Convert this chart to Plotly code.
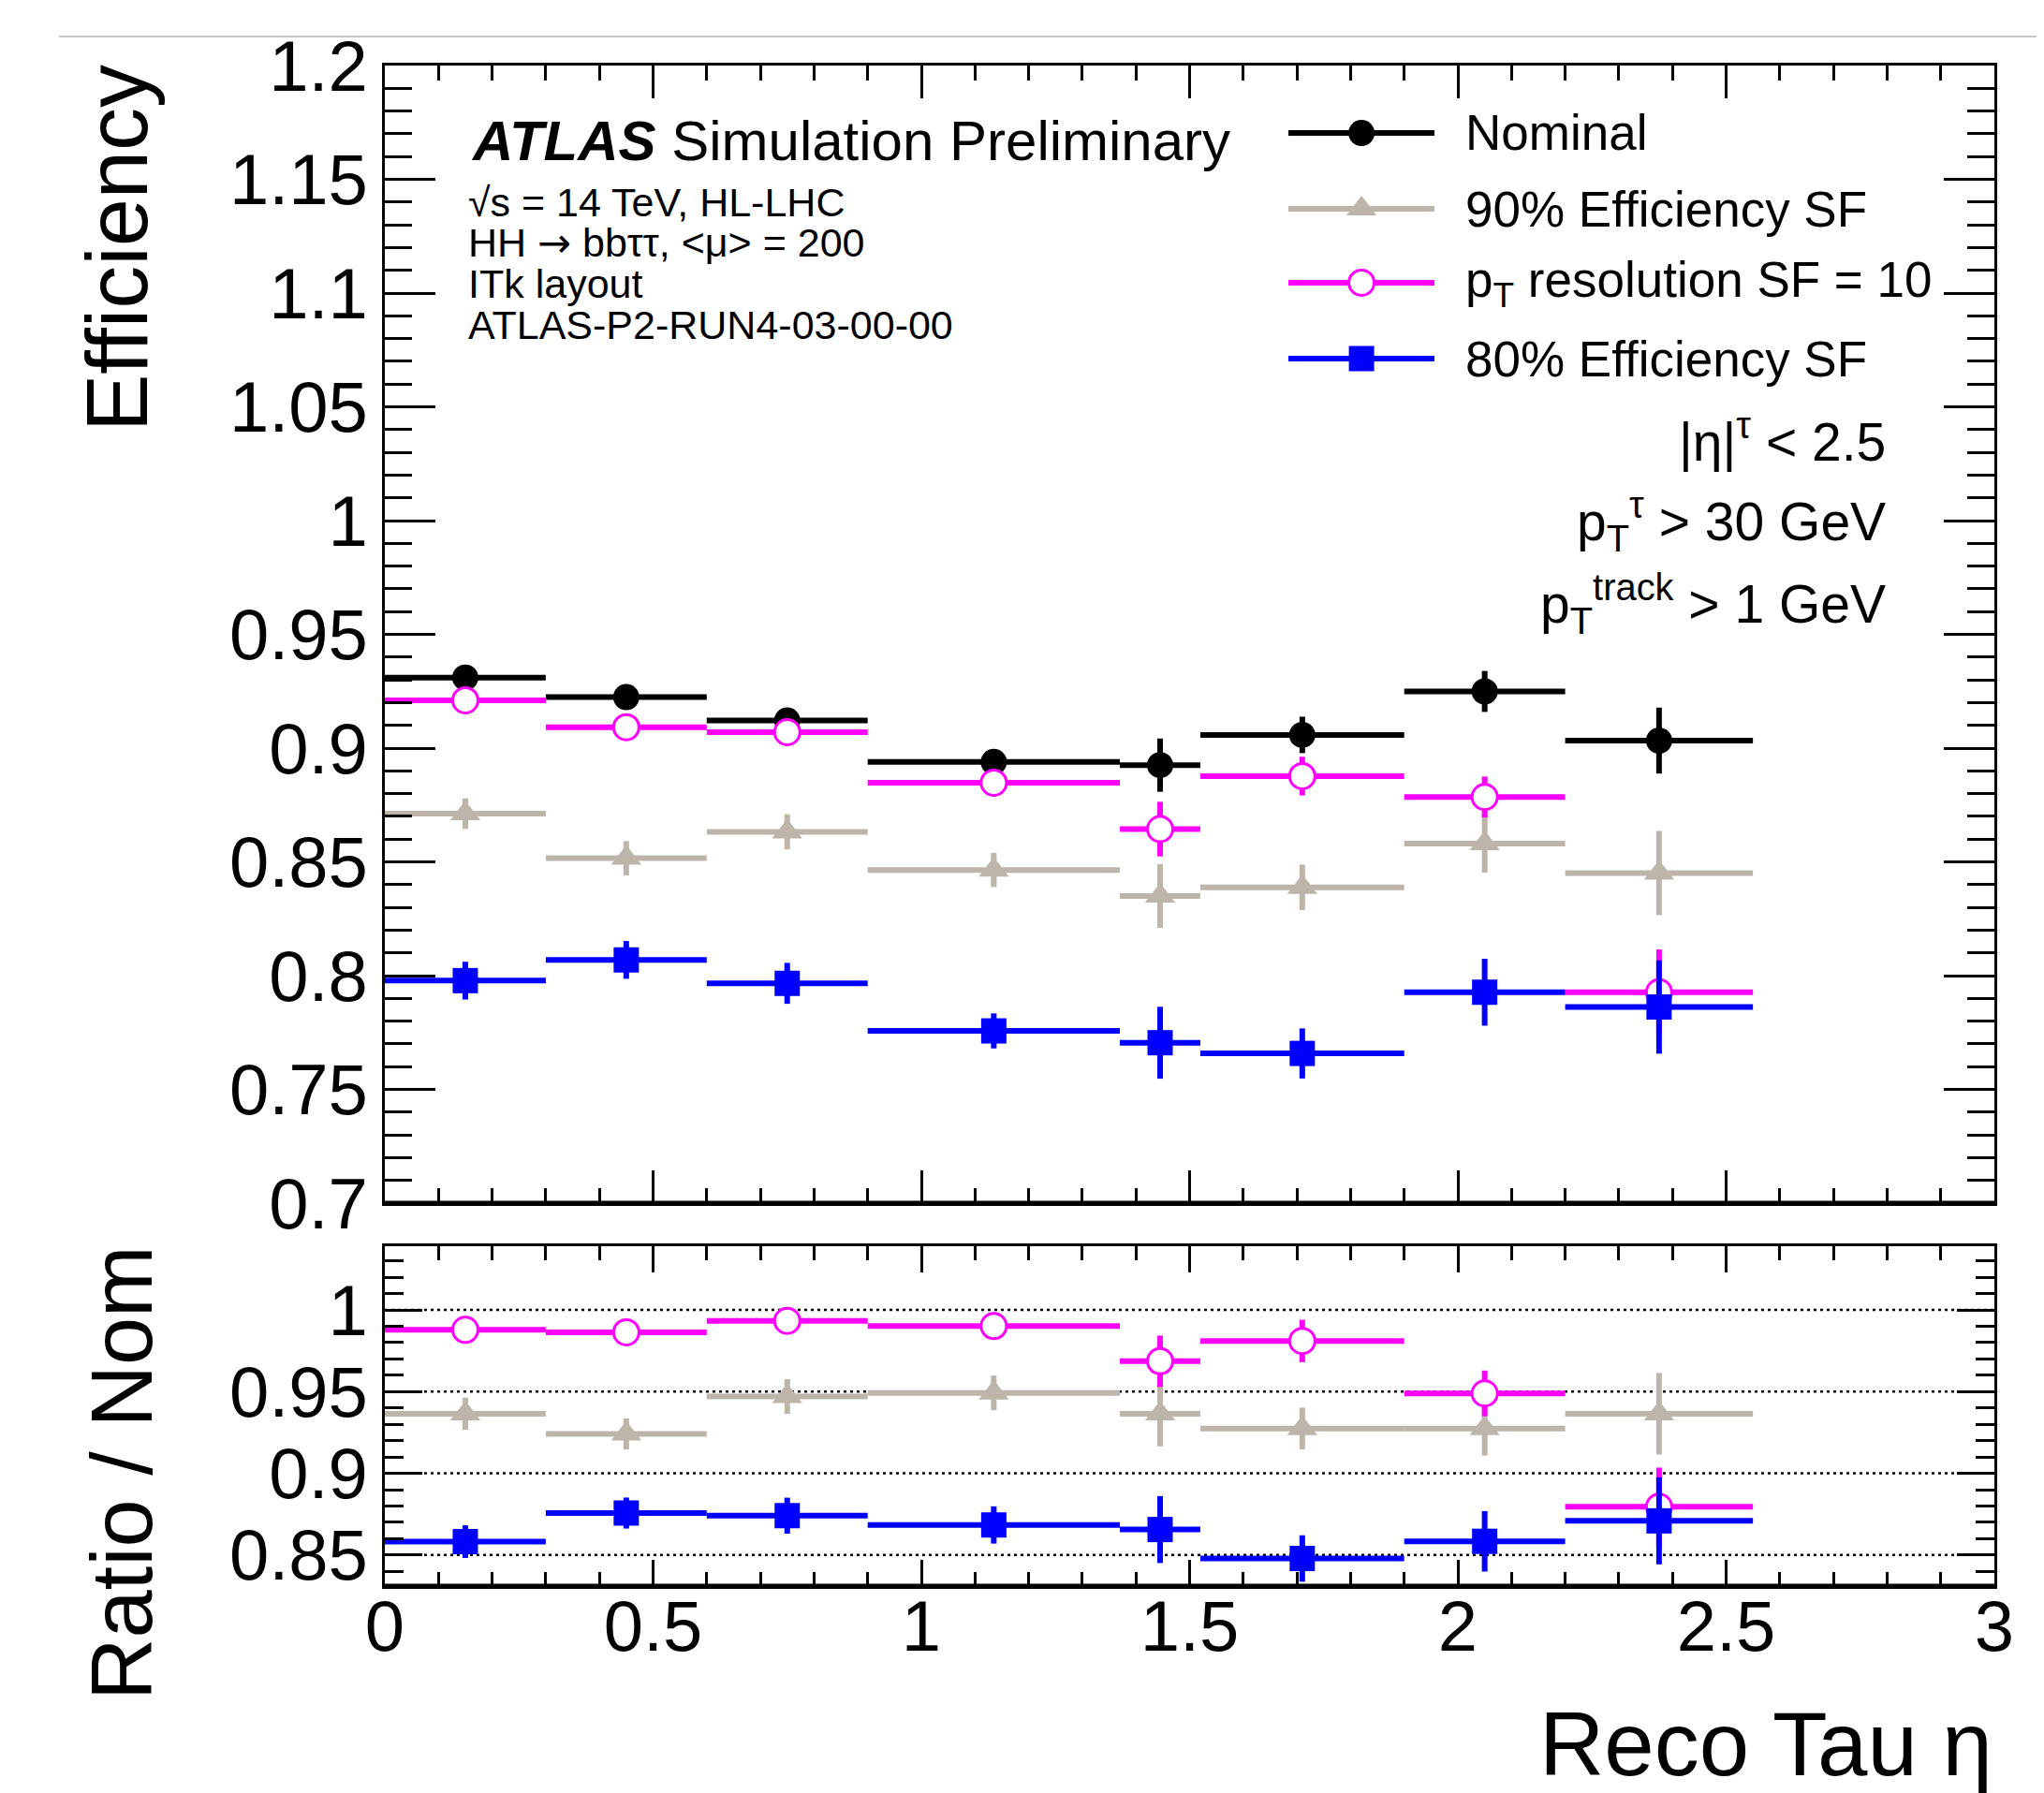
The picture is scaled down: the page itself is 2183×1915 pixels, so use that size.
import plotly.graph_objects as go

# ---------------- data ----------------
eta_edges = [0.0, 0.3, 0.6, 0.9, 1.37, 1.52, 1.9, 2.2, 2.55]

nominal_eff = [0.9310, 0.9224, 0.9121, 0.8939, 0.8925, 0.9058, 0.9249, 0.9033]
nominal_err = [0.004, 0.003, 0.005, 0.004, 0.0117, 0.008, 0.009, 0.0145]

eff90 = [0.8712, 0.8516, 0.8632, 0.8464, 0.8350, 0.8388, 0.8580, 0.8451]
eff90_err = [0.0067, 0.0075, 0.0077, 0.0075, 0.014, 0.010, 0.0128, 0.0185]

ptres = [0.9210, 0.9092, 0.9070, 0.8848, 0.8644, 0.8877, 0.8785, 0.7927]
ptres_err = [0.006, 0.005, 0.006, 0.006, 0.012, 0.0085, 0.009, 0.0188]

eff80 = [0.7978, 0.8069, 0.7966, 0.7757, 0.7705, 0.7658, 0.7927, 0.7862]
eff80_err = [0.0083, 0.0083, 0.009, 0.0077, 0.0158, 0.011, 0.0147, 0.0205]

ratio_eff90 = [0.9365, 0.9241, 0.9470, 0.9492, 0.9365, 0.9274, 0.9274, 0.9365]
ratio_eff90_err = [0.0098, 0.0095, 0.0106, 0.0106, 0.020, 0.0128, 0.0166, 0.025]

ratio_ptres = [0.9878, 0.9863, 0.9933, 0.9901, 0.9686, 0.9810, 0.9489, 0.8795]
ratio_ptres_err = [0.006, 0.006, 0.007, 0.007, 0.0157, 0.013, 0.014, 0.024]

ratio_eff80 = [0.8582, 0.8757, 0.8741, 0.8684, 0.8656, 0.8479, 0.8584, 0.8709]
ratio_eff80_err = [0.010, 0.0095, 0.011, 0.0114, 0.0205, 0.0142, 0.0185, 0.0266]

series_names = ["Nominal", "90% Efficiency SF", "p<sub>T</sub> resolution SF = 10", "80% Efficiency SF"]

x_tickvals = [0, 0.5, 1, 1.5, 2, 2.5, 3]
x_ticktext = ["0", "0.5", "1", "1.5", "2", "2.5", "3"]
y_tickvals = [0.7, 0.75, 0.8, 0.85, 0.9, 0.95, 1.0, 1.05, 1.1, 1.15, 1.2]
y_ticktext = ["0.7", "0.75", "0.8", "0.85", "0.9", "0.95", "1", "1.05", "1.1", "1.15", "1.2"]
r_tickvals = [0.85, 0.9, 0.95, 1.0]
r_ticktext = ["0.85", "0.9", "0.95", "1"]
ratio_ref_lines = [0.85, 0.9, 0.95, 1.0]

# ---------------- styles ----------------
FONT = "Liberation Sans, Arial, Helvetica, sans-serif"
C_NOM = "#000000"
C_90 = "#bdb5aa"
C_PT = "#ff00ff"
C_80 = "#0000ff"
styles = [
    dict(color=C_NOM, symbol="circle", size=28, fill=C_NOM, lw=0),
    dict(color=C_90, symbol="triangle-up", size=28, fill=C_90, lw=0),
    dict(color=C_PT, symbol="circle", size=27, fill="white", lw=3),
    dict(color=C_80, symbol="square", size=27, fill=C_80, lw=0),
]
BAR_W = 6

centers = [(a + b) / 2 for a, b in zip(eta_edges[:-1], eta_edges[1:])]
halfw = [(b - a) / 2 for a, b in zip(eta_edges[:-1], eta_edges[1:])]

fig = go.Figure()


def add_series(y, yerr, st, name, xa, ya):
    fig.add_trace(go.Scatter(
        x=centers, y=y, mode="markers", name=name, showlegend=False,
        xaxis=xa, yaxis=ya,
        marker=dict(symbol=st["symbol"], size=st["size"], color=st["fill"], opacity=1,
                    line=dict(color=st["color"], width=st["lw"])),
        error_x=dict(type="data", array=halfw, symmetric=True, color=st["color"],
                     thickness=BAR_W, width=0),
        error_y=dict(type="data", array=yerr, symmetric=True, color=st["color"],
                     thickness=BAR_W, width=0),
    ))


# main panel
add_series(nominal_eff, nominal_err, styles[0], series_names[0], "x", "y")
add_series(eff90, eff90_err, styles[1], series_names[1], "x", "y")
add_series(ptres, ptres_err, styles[2], series_names[2], "x", "y")
add_series(eff80, eff80_err, styles[3], series_names[3], "x", "y")

# ratio panel
add_series(ratio_eff90, ratio_eff90_err, styles[1], series_names[1], "x2", "y2")
add_series(ratio_ptres, ratio_ptres_err, styles[2], series_names[2], "x2", "y2")
add_series(ratio_eff80, ratio_eff80_err, styles[3], series_names[3], "x2", "y2")

# manual legend (fractional coordinates of the main panel, via overlay axes)
leg_x = [0.5614, 0.6068, 0.6521]
leg_y = [0.9407, 0.8741, 0.8091, 0.7424]
for st, ly in zip(styles, leg_y):
    fig.add_trace(go.Scatter(
        x=[leg_x[0], leg_x[2]], y=[ly, ly], mode="lines", showlegend=False,
        xaxis="x3", yaxis="y3", hoverinfo="skip",
        line=dict(color=st["color"], width=BAR_W),
    ))
    fig.add_trace(go.Scatter(
        x=[leg_x[1]], y=[ly], mode="markers", showlegend=False,
        xaxis="x3", yaxis="y3", hoverinfo="skip",
        marker=dict(symbol=st["symbol"], size=st["size"], color=st["fill"], opacity=1,
                    line=dict(color=st["color"], width=st["lw"])),
    ))

# geometry: page body has an 8px margin, so screen = figure + 8
OFF = 8
W, H = 2183 - OFF, 1915 - OFF
X0S, X1S, Y0S, Y1S = 411, 2130, 70, 1694   # plot area in screen pixels
L, T = X0S - OFF, Y0S - OFF
R, B = W - (X1S - OFF), H - (Y1S - OFF)
PW, PH = X1S - X0S, Y1S - Y0S


def px(xs):
    return (xs - X0S) / PW


def py(ys):
    return (Y1S - ys) / PH


main_dom = [py(1285), 1.0]
ratio_dom = [0.0, py(1331)]

axis_common = dict(showline=True, linecolor="black", linewidth=3, mirror="allticks",
                   ticks="inside", tickcolor="black", tickwidth=3, showgrid=False,
                   zeroline=False, tickfont=dict(family=FONT, size=76, color="black"))

fig.update_layout(
    width=W, height=H,
    margin=dict(l=L, r=R, t=T, b=B, pad=0),
    paper_bgcolor="white", plot_bgcolor="white",
    showlegend=False,
    font=dict(family=FONT, color="black"),
    xaxis=dict(domain=[0, 1], anchor="y", range=[0, 3], showticklabels=False,
               tickmode="array", tickvals=x_tickvals, ticktext=x_ticktext, ticklen=35,
               minor=dict(tickmode="linear", tick0=0, dtick=0.1, ticklen=16, tickwidth=3,
                          ticks="inside", tickcolor="black"),
               **axis_common),
    yaxis=dict(domain=main_dom, anchor="x", range=[0.7, 1.2],
               tickmode="array", tickvals=y_tickvals, ticktext=y_ticktext, ticklen=54,
               ticklabelstandoff=0,
               minor=dict(tickmode="linear", tick0=0.7, dtick=0.01, ticklen=29, tickwidth=3,
                          ticks="inside", tickcolor="black"),
               **axis_common),
    xaxis2=dict(domain=[0, 1], anchor="y2", range=[0, 3], matches="x",
                tickmode="array", tickvals=x_tickvals, ticktext=x_ticktext, ticklen=28,
                ticklabelstandoff=-25,
                minor=dict(tickmode="linear", tick0=0, dtick=0.1, ticklen=15, tickwidth=3,
                           ticks="inside", tickcolor="black"),
                **axis_common),
    yaxis2=dict(domain=ratio_dom, anchor="x2", range=[0.831, 1.039],
                tickmode="array", tickvals=r_tickvals, ticktext=r_ticktext, ticklen=40,
                ticklabelstandoff=0,
                minor=dict(tickmode="linear", tick0=0.8, dtick=0.01, ticklen=20, tickwidth=3,
                           ticks="inside", tickcolor="black"),
                **axis_common),
    xaxis3=dict(overlaying="x", range=[0, 1], visible=False, anchor="y3"),
    yaxis3=dict(overlaying="y", range=[0, 1], visible=False, anchor="x3"),
)

# dotted reference lines in ratio panel
for v in ratio_ref_lines:
    fig.add_shape(type="line", xref="x2", yref="y2", x0=0, x1=3, y0=v, y1=v,
                  line=dict(color="black", width=2.5, dash="3px,4px"), layer="below")

# thicker bottom frame lines (as in the ROOT canvas)
for xr, yr in [("x domain", "y domain"), ("x2 domain", "y2 domain")]:
    fig.add_shape(type="line", xref=xr, yref=yr, x0=0, x1=1, y0=0, y1=0,
                  line=dict(color="black", width=5))

# grey line at top of image
fig.add_shape(type="line", xref="paper", yref="paper", x0=px(63), x1=px(2183),
              y0=py(39), y1=py(39), line=dict(color="#c8c8c8", width=2))

ann = []
# axis titles
ann.append(dict(text="Efficiency", xref="paper", yref="paper", x=px(125), y=py(265),
                textangle=-90, showarrow=False, xanchor="center", yanchor="middle",
                font=dict(family=FONT, size=92)))
ann.append(dict(text="Ratio / Nom", xref="paper", yref="paper", x=px(130), y=py(1573),
                textangle=-90, showarrow=False, xanchor="center", yanchor="middle",
                font=dict(family=FONT, size=92)))
ann.append(dict(text="Reco Tau η", xref="paper", yref="paper", x=1.0, y=py(1862),
                showarrow=False, xanchor="right", yanchor="middle",
                font=dict(family=FONT, size=96)))
# ATLAS label
ann.append(dict(text="<b><i>ATLAS</i></b> Simulation Preliminary", xref="paper", yref="paper",
                x=px(501), y=py(150), showarrow=False, xanchor="left", yanchor="middle",
                font=dict(family=FONT, size=60)))
info_lines = ["√s = 14 TeV, HL-LHC",
              "HH <span style='font-family:DejaVu Sans'>→</span> bbττ, &lt;μ&gt; = 200",
              "ITk layout",
              "ATLAS-P2-RUN4-03-00-00"]
for t, yy in zip(info_lines, [216, 259, 303, 347]):
    ann.append(dict(text=t, xref="paper", yref="paper", x=px(498), y=py(yy),
                    showarrow=False, xanchor="left", yanchor="middle",
                    font=dict(family=FONT, size=43)))
# legend labels
for t, yy in zip(series_names, [142, 223, 302, 383]):
    ann.append(dict(text=t, xref="paper", yref="paper", x=px(1563), y=py(yy),
                    showarrow=False, xanchor="left", yanchor="middle",
                    font=dict(family=FONT, size=53)))
# cut labels
cut_lines = ["|η|<sup>τ</sup> &lt; 2.5", "p<sub>T</sub><sup>τ</sup> &gt; 30 GeV",
             "p<sub>T</sub><sup>track</sup> &gt; 1 GeV"]
for t, yy in zip(cut_lines, [468, 557, 645]):
    ann.append(dict(text=t, xref="paper", yref="paper", x=px(2016), y=py(yy),
                    showarrow=False, xanchor="right", yanchor="middle",
                    font=dict(family=FONT, size=57)))
fig.update_layout(annotations=ann)

fig.write_html("out.html")
